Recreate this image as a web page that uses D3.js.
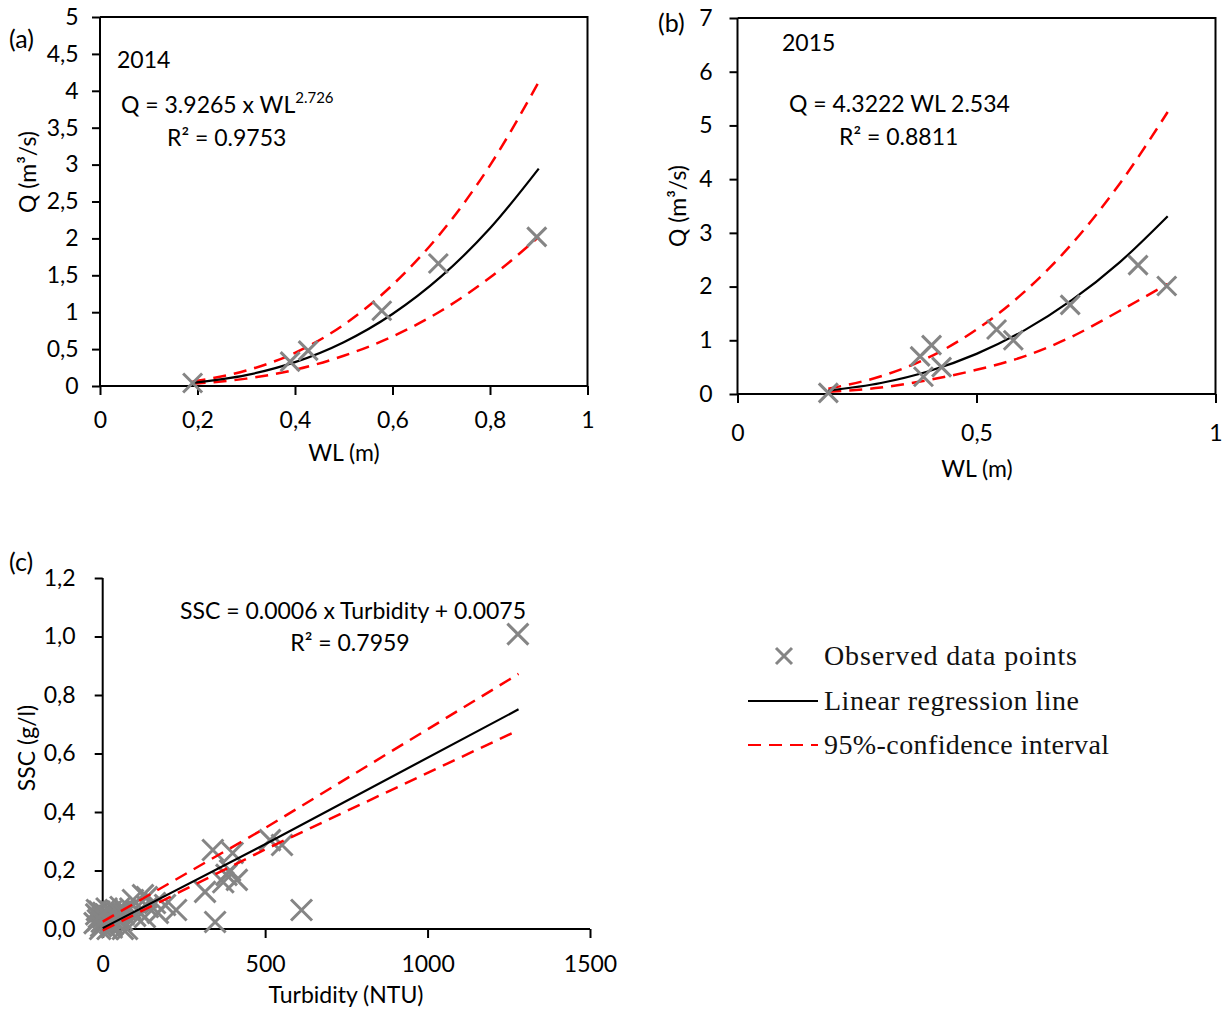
<!DOCTYPE html>
<html><head><meta charset="utf-8">
<script src="https://cdn.jsdelivr.net/npm/d3@7"></script>
<style>
body{margin:0;background:#fff;}
svg{display:block;}
.tk{font-family:Lato,"Open Sans",sans-serif;font-size:23px;fill:#000;}
.lg{font-family:"Liberation Serif","DejaVu Serif",serif;font-size:28px;fill:#111;}
</style>
</head><body>
<svg id="chart" width="1228" height="1009"></svg>
<script>
// ---------- Panel (a) 2014 ----------
const wlA = [0.19, 0.39, 0.427, 0.578, 0.694, 0.896];
const qA  = [0.04, 0.33, 0.48, 1.02, 1.66, 2.02];
const curveXA = [0.19, 0.3, 0.4, 0.5, 0.6, 0.7, 0.8, 0.9];
const fitA = [0.043, 0.147, 0.323, 0.594, 0.976, 1.485, 2.137, 2.946];
const upA  = [0.06, 0.21, 0.45, 0.83, 1.37, 2.08, 2.99, 4.12];
const loA  = [0.03, 0.10, 0.22, 0.41, 0.67, 1.02, 1.47, 2.02];
const xTicksA = [0, 0.2, 0.4, 0.6, 0.8, 1];
const yTicksA = [0, 0.5, 1, 1.5, 2, 2.5, 3, 3.5, 4, 4.5, 5];

// ---------- Panel (b) 2015 ----------
const wlB = [0.19, 0.382, 0.406, 0.389, 0.427, 0.542, 0.577, 0.696, 0.838, 0.898];
const qB  = [0.02, 0.70, 0.91, 0.32, 0.50, 1.20, 1.00, 1.66, 2.40, 2.01];
const curveXB = [0.19, 0.3, 0.4, 0.5, 0.6, 0.7, 0.8, 0.9];
const fitB = [0.064, 0.205, 0.424, 0.747, 1.185, 1.751, 2.456, 3.310];
const upB  = [0.10, 0.33, 0.68, 1.20, 1.90, 2.80, 3.92, 5.25];
const loB  = [0.04, 0.12, 0.26, 0.45, 0.70, 1.07, 1.55, 2.05];
const xTicksB = [0, 0.5, 1];
const yTicksB = [0, 1, 2, 3, 4, 5, 6, 7];

// ---------- Panel (c) SSC vs Turbidity ----------
const turb = [1278, 339, 400, 515, 552, 381, 371, 392, 413, 315, 346, 612, 226, 192, 161, 136, 130, 93, 75,
  124, 139, 170, 44, 62, -20, -15, -10, -5, 0, 5, 10, 15, 20, 25, 30, -25, -8, 12, 35, 40, 2, -18, 28, 8,
  18, -3, 45, 50, 55, 60, 65, 70, 22, -12, 85, 100, 110];
const ssc  = [1.008, 0.27, 0.26, 0.304, 0.287, 0.185, 0.16, 0.20, 0.168, 0.127, 0.024, 0.065, 0.065, 0.082,
  0.089, 0.109, 0.041, 0.099, 0.0, 0.116, 0.075, 0.055, 0.055, 0.0, 0.05, 0.03, 0.06, 0.01, 0.04, 0.02, 0.05,
  0.0, 0.035, 0.06, 0.015, 0.02, 0.0, 0.07, 0.045, 0.025, 0.055, 0.065, 0.005, 0.03, 0.045, 0.025, 0.06, 0.04,
  0.075, 0.03, 0.05, 0.065, 0.02, 0.04, 0.07, 0.045, 0.06];
const curveXC = [0, 500, 1280];
const fitC = [0.003, 0.29, 0.751];
const upC  = [0.025, 0.345, 0.872];
const loC  = [-0.005, 0.272, 0.68];
const xTicksC = [0, 500, 1000, 1500];
const yTicksC = [0, 0.2, 0.4, 0.6, 0.8, 1.0, 1.2];

const svg = d3.select("#chart");
const comma = d => String(d).replace(".", ",");
const GRAY = "#858585", RED = "#ff0000";

function xMark(g, x, y, r) {
  g.append("path").attr("d", `M${x-r},${y-r}L${x+r},${y+r}M${x-r},${y+r}L${x+r},${y-r}`)
    .attr("stroke", GRAY).attr("stroke-width", 3).attr("fill", "none");
}

function panel(cfg) {
  const g = svg.append("g");
  const x = d3.scaleLinear().domain(cfg.xd).range([cfg.l, cfg.r]);
  const y = d3.scaleLinear().domain(cfg.yd).range([cfg.b, cfg.t]);
  const ax = g.append("g").attr("transform", `translate(0,${cfg.b})`)
    .call(d3.axisBottom(x).tickValues(cfg.xt).tickSize(9).tickFormat(cfg.xf || comma));
  const ay = g.append("g").attr("transform", `translate(${cfg.l},0)`)
    .call(d3.axisLeft(y).tickValues(cfg.yt).tickSize(8).tickFormat(cfg.yf || comma));
  [ax, ay].forEach(a => {
    a.attr("font-size", null).attr("font-family", null);
    a.select(".domain").attr("stroke", "#000").attr("stroke-width", 2);
    a.selectAll(".tick line").attr("stroke", "#000").attr("stroke-width", 2);
    a.selectAll(".tick text").attr("class", "tk");
  });
  ax.selectAll(".tick text").attr("dy", cfg.xdy || "1.3em");
  ay.selectAll(".tick text").attr("dx", cfg.ydx || "-0.3em");
  ay.select(".domain").attr("d", `M0,0V${cfg.t - cfg.b}`).attr("transform", `translate(0,${cfg.b})`);
  ax.select(".domain").attr("d", `M${cfg.l},0H${cfg.r}`);
  if (cfg.box) {
    g.append("path").attr("d", `M${cfg.l},${cfg.t}H${cfg.r}V${cfg.b}`)
      .attr("stroke", "#000").attr("stroke-width", 2).attr("fill", "none");
  }
  const line = d3.line().x(d => x(d[0])).y(d => y(d[1]));
  const mk = (xs, ys) => xs.map((v, i) => [v, ys[i]]);
  if (cfg.smooth) line.curve(d3.curveMonotoneX);
  const drawLines = () => {
    g.append("path").datum(mk(cfg.cx, cfg.up)).attr("d", line)
      .attr("stroke", RED).attr("stroke-width", 2.5).attr("fill", "none").attr("stroke-dasharray", "13,8");
    g.append("path").datum(mk(cfg.cx, cfg.lo)).attr("d", line)
      .attr("stroke", RED).attr("stroke-width", 2.5).attr("fill", "none").attr("stroke-dasharray", "13,8");
    g.append("path").datum(mk(cfg.cx, cfg.fit)).attr("d", line)
      .attr("stroke", "#000").attr("stroke-width", 2.2).attr("fill", "none");
  };
  if (!cfg.linesOnTop) drawLines();
  const pg = g.append("g");
  cfg.px.forEach((v, i) => xMark(pg, x(v), y(cfg.py[i]), cfg.mr || 9));
  if (cfg.linesOnTop) drawLines();
  return g;
}

// Panel (a)
panel({xd:[0,1], yd:[0,5], l:100, r:587.5, t:17, b:386, xt:xTicksA, yt:yTicksA,
  cx:curveXA, fit:fitA, up:upA, lo:loA, px:wlA, py:qA, box:true, smooth:true, mr:9.5, ydx:"-0.45em"});
// Panel (b)
panel({xd:[0,1], yd:[0,7], l:737.5, r:1215.5, t:18, b:394, xt:xTicksB, yt:yTicksB,
  cx:curveXB, fit:fitB, up:upB, lo:loB, px:wlB, py:qB, box:true, smooth:true, mr:9.5, xdy:"1.5em", ydx:"-0.6em"});
// Panel (c)
panel({xd:[0,1500], yd:[0,1.2], l:102.7, r:590, t:578, b:929, xt:xTicksC, yt:yTicksC,
  xf:d => String(d), yf:d => d3.format(".1f")(d).replace(".", ","),
  cx:curveXC, fit:fitC, up:upC, lo:loC, px:turb, py:ssc, box:false, smooth:false, mr:10.5, linesOnTop:true, xdy:"1.35em", ydx:"-0.7em"});

function txt(x, y, s, opts = {}) {
  const t = svg.append("text").attr("class", "tk").attr("x", x).attr("y", y).text(s);
  if (opts.anchor) t.attr("text-anchor", opts.anchor);
  if (opts.rot) t.attr("transform", `rotate(-90,${x},${y})`);
  if (opts.size) t.style("font-size", opts.size + "px");
  return t;
}
// labels (a)
txt(9, 48, "(a)", {size:25});
txt(344, 461, "WL (m)", {anchor:"middle"});
txt(36, 172, "Q (m³/s)", {anchor:"middle", rot:true});
txt(117, 68, "2014");
const eqA = txt(121, 113, "Q = 3.9265 x WL");
eqA.append("tspan").attr("dy", -10).attr("font-size", 15).text("2.726");
txt(167, 146, "R² = 0.9753");
// labels (b)
txt(658, 32, "(b)", {size:25});
txt(977, 477, "WL (m)", {anchor:"middle"});
txt(686, 206, "Q (m³/s)", {anchor:"middle", rot:true});
txt(782, 51, "2015");
txt(789, 112, "Q = 4.3222 WL 2.534");
txt(839, 145, "R² = 0.8811");
// labels (c)
txt(9, 571, "(c)", {size:25});
txt(346, 1003, "Turbidity (NTU)", {anchor:"middle"});
txt(35, 748, "SSC  (g/l)", {anchor:"middle", rot:true});
txt(353, 619, "SSC = 0.0006 x Turbidity + 0.0075", {anchor:"middle"});
txt(350, 651, "R² = 0.7959", {anchor:"middle"});

// legend
const legendItems = ["Observed data points", "Linear regression line", "95%-confidence interval"];
const legendWidths = [253, 255, 285];
const lgY = [656, 701, 745];
const lg = svg.append("g");
xMark(lg, 784, lgY[0], 8);
lg.append("line").attr("x1", 748).attr("x2", 818).attr("y1", lgY[1]).attr("y2", lgY[1])
  .attr("stroke", "#000").attr("stroke-width", 2);
lg.append("line").attr("x1", 748).attr("x2", 818).attr("y1", lgY[2]).attr("y2", lgY[2])
  .attr("stroke", RED).attr("stroke-width", 2).attr("stroke-dasharray", "13,8");
legendItems.forEach((s, i) => {
  lg.append("text").attr("class", "lg").attr("x", 824).attr("y", lgY[i] + 9)
    .attr("textLength", legendWidths[i]).attr("lengthAdjust", "spacing").text(s);
});
</script>
</body></html>
